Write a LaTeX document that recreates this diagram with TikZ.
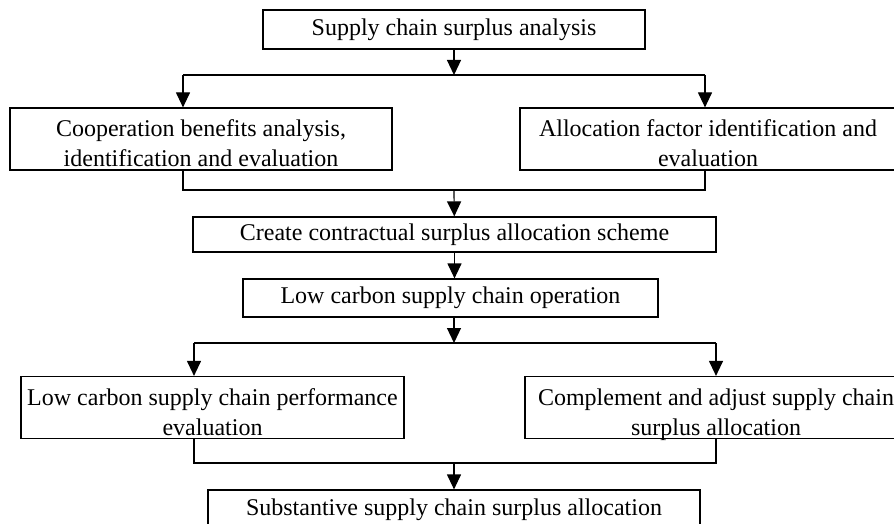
\documentclass[tikz,border=0pt]{standalone}
\usepackage{fontspec}
\setmainfont{Liberation Serif}
\usetikzlibrary{arrows.meta}
\usetikzlibrary{calc}
\begin{document}
\begin{tikzpicture}[x=0.5pt,y=-0.5pt,line width=0.6pt,
  box/.style={draw, rectangle, inner xsep=2pt, inner ysep=1pt, align=center,
    font=\fontsize{12pt}{15pt}\selectfont},
  twoline/.style={box, minimum height=31pt, text height=28pt, text depth=0pt},
  arr/.style={-{Triangle[width=7pt,length=7.5pt]}}]
\clip (0,0) rectangle (894,524);
% the boxes
\node[box, minimum width=191pt, minimum height=19.5pt] (surplus) at (454,29.5) {Supply chain surplus analysis};
\node[twoline, minimum width=191pt] (coop) at (201,139) {Cooperation benefits analysis,\\identification and evaluation};
\node[twoline, minimum width=188pt] (factor) at (708,139) {Allocation factor identification and\\evaluation};
\node[box, minimum width=261.5pt, minimum height=17.5pt] (scheme) at (454.5,234.5) {Create contractual surplus allocation scheme};
\node[box, minimum width=207.5pt, minimum height=19pt] (oper) at (450.5,298) {Low carbon supply chain operation};
\node[twoline, minimum width=191.5pt] (perf) at (212.5,407.5) {Low carbon supply chain performance\\evaluation};
\node[twoline, minimum width=191pt] (adjust) at (716,407.5) {Complement and adjust supply chain\\surplus allocation};
\node[box, minimum width=246pt, minimum height=19.5pt] (subst) at (454,509.5) {Substantive supply chain surplus allocation};
% first split
\coordinate (s1) at (454,75);
\coordinate (s1l) at (183,75);
\coordinate (s1r) at (705,75);
\draw[arr] (surplus) -- (s1);
\draw (s1l) -- (s1r);
\draw[arr] (s1l) -- (s1l |- coop.north);
\draw[arr] (s1r) -- (s1r |- factor.north);
% first merge
\coordinate (m1) at (454,190);
\draw (s1l |- coop.south) |- (m1) -| (s1r |- factor.south);
\draw[arr] (m1) -- (scheme);
\draw[arr] (scheme) -- (scheme.south |- oper.north);
% second split
\coordinate (s2) at (454,343);
\coordinate (s2l) at (194,343);
\coordinate (s2r) at (716,343);
\draw[arr] (s2 |- oper.south) -- (s2);
\draw (s2l) -- (s2r);
\draw[arr] (s2l) -- (s2l |- perf.north);
\draw[arr] (s2r) -- (adjust);
% second merge
\coordinate (m2) at (454,463);
\draw (s2l |- perf.south) |- (m2) -| (adjust);
\draw[arr] (m2) -- (subst);
\end{tikzpicture}
\end{document}
